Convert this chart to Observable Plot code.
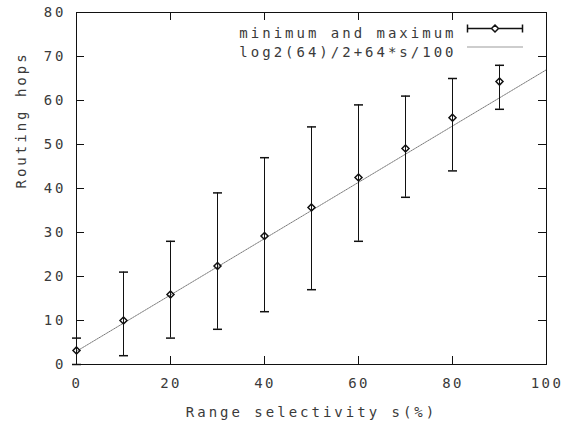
<!DOCTYPE html>
<html>
<head>
<meta charset="utf-8">
<script src="https://cdn.jsdelivr.net/npm/d3@7"></script>
<script src="https://cdn.jsdelivr.net/npm/@observablehq/plot@0.6"></script>
<style>
  html, body { margin: 0; padding: 0; background: #fff; }
  g[aria-label="x-axis tick label"] { letter-spacing: 2.4px; }
</style>
</head>
<body>
<div id="chart"></div>
<script>
// ---- data ----
const selectivity = [0, 10, 20, 30, 40, 50, 60, 70, 80, 90];
const hopsMean    = [3.2, 10, 15.9, 22.4, 29.2, 35.7, 42.5, 49.1, 56.1, 64.3];
const hopsMin     = [0, 2, 6, 8, 12, 17, 28, 38, 44, 58];
const hopsMax     = [6, 21, 28, 39, 47, 54, 59, 61, 65, 68];
const fitS        = [0, 100];
const fitHops     = [3, 67];
const xTicks      = [0, 20, 40, 60, 80, 100];
const yTicks      = [0, 10, 20, 30, 40, 50, 60, 70, 80];
const legendLabels = ["minimum and maximum", "log2(64)/2+64*s/100"];
const xLabel = "Range selectivity s(%)";
const yLabel = "Routing hops";

const rows = selectivity.map((s, i) => ({s, mean: hopsMean[i], min: hopsMin[i], max: hopsMax[i]}));
const fit = fitS.map((s, i) => ({s, h: fitHops[i]}));

const W = 563, H = 424, mL = 76, mR = 17, mT = 12, mB = 60;
const iW = W - mL - mR, iH = H - mT - mB;
const ink = "#111", textInk = "#3a3a3a", fitInk = "#7a7a7a";

const capSym = {draw(ctx, size) { const r = Math.sqrt(size / Math.PI); ctx.moveTo(-r, 0); ctx.lineTo(r, 0); }};
const diamondSym = {draw(ctx, size) { const r = Math.sqrt(size / Math.PI); ctx.moveTo(0, -r); ctx.lineTo(r, 0); ctx.lineTo(0, r); ctx.lineTo(-r, 0); ctx.closePath(); }};
const legendErrSym = {draw(ctx) {
  const h = 27.5, c = 4, d = 3.5;
  ctx.moveTo(-h, 0); ctx.lineTo(-d, 0);
  ctx.moveTo(d, 0); ctx.lineTo(h, 0);
  ctx.moveTo(-h, -c); ctx.lineTo(-h, c);
  ctx.moveTo(h, -c); ctx.lineTo(h, c);
  ctx.moveTo(0, -d); ctx.lineTo(d, 0); ctx.lineTo(0, d); ctx.lineTo(-d, 0); ctx.closePath();
}};
const legendLineSym = {draw(ctx) { ctx.moveTo(-27.5, 0); ctx.lineTo(27.5, 0); }};

const chart = Plot.plot({
  width: W, height: H,
  marginLeft: mL, marginRight: mR, marginTop: mT, marginBottom: mB,
  style: {fontFamily: "'DejaVu Sans Mono', monospace", fontSize: "14px", letterSpacing: "3px", color: textInk, background: "#fff"},
  x: {domain: [0, 100]},
  y: {domain: [0, 80]},
  marks: [
    Plot.axisX({ticks: xTicks, tickSize: 0, tickPadding: 14, label: null, fill: textInk, dx: 0.5}),
    Plot.axisY({ticks: yTicks, tickSize: 0, tickPadding: 10, label: null, fill: textInk}),
    // inward ticks on all four sides
    Plot.tickY(yTicks, {y: d => d, insetRight: iW - 8, stroke: ink}),
    Plot.tickY(yTicks, {y: d => d, insetLeft: iW - 8, stroke: ink}),
    Plot.tickX(xTicks, {x: d => d, insetTop: iH - 8, stroke: ink}),
    Plot.tickX(xTicks, {x: d => d, insetBottom: iH - 8, stroke: ink}),
    Plot.frame({stroke: ink}),
    // fitted function
    Plot.line(fit, {x: "s", y: "h", stroke: fitInk, strokeWidth: 1, strokeDasharray: "1,1"}),
    // error bars
    Plot.ruleX(rows, {x: "s", y1: "min", y2: "max", stroke: ink}),
    Plot.dot(rows, {x: "s", y: "min", symbol: capSym, r: 4.5, stroke: ink, fill: "none"}),
    Plot.dot(rows, {x: "s", y: "max", symbol: capSym, r: 4.5, stroke: ink, fill: "none"}),
    Plot.dot(rows, {x: "s", y: "mean", symbol: diamondSym, r: 3.5, stroke: ink, fill: "none"}),
    // legend
    Plot.text([legendLabels[0]], {frameAnchor: "top-right", text: d => d, textAnchor: "end", dx: -90, dy: 16, fill: textInk}),
    Plot.text([legendLabels[1]], {frameAnchor: "top-right", text: d => d, textAnchor: "end", dx: -90, dy: 34.5, fill: textInk}),
    Plot.dot([0], {frameAnchor: "top-right", dx: -51.5, dy: 16, symbol: legendErrSym, r: 1, stroke: ink, fill: "none"}),
    Plot.dot([0], {frameAnchor: "top-right", dx: -51.5, dy: 34.5, symbol: legendLineSym, r: 1, stroke: fitInk, strokeDasharray: "1,1", fill: "none"}),
    // axis labels
    Plot.text([xLabel], {frameAnchor: "bottom", text: d => d, lineAnchor: "bottom", dy: 52, fill: textInk}),
    Plot.text([yLabel], {frameAnchor: "left", text: d => d, rotate: -90, lineAnchor: "bottom", dx: -51, fill: textInk})
  ]
});
document.getElementById("chart").appendChild(chart);
</script>
</body>
</html>
